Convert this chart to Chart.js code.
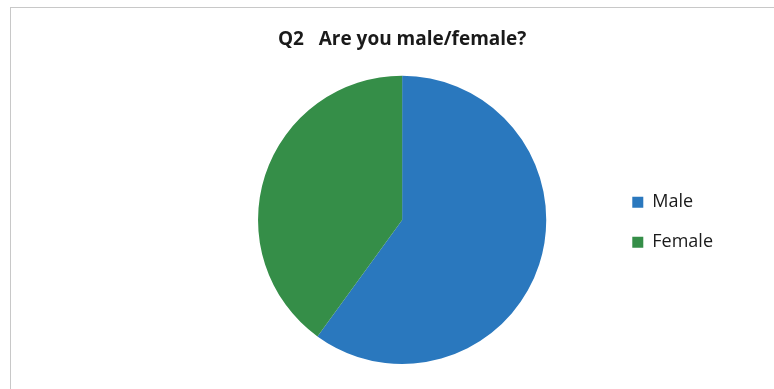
<!DOCTYPE html>
<html>
<head>
<meta charset="utf-8">
<script src="https://cdn.jsdelivr.net/npm/chart.js@4"></script>
<style>
	html, body { margin: 0; padding: 0; background: #fff; overflow: hidden; }
	#frame { position: absolute; left: 10px; top: 7px; width: 800px; height: 420px; border: 1px solid #c8c8c8; box-sizing: border-box; }
	#wrap { position: absolute; left: 0; top: 0; width: 774px; height: 389px; }
</style>
</head>
<body>
<div id="frame"></div>
<div id="wrap"><canvas id="myChart" width="774" height="389"></canvas></div>
<script>
const categories = ['Male', 'Female'];
const values = [60, 40];
const colours = ['#2a78be', '#358e48'];
const titleText = 'Q2   Are you male/female?';

function initialize() {
	const ctx = document.getElementById('myChart');
	new Chart(ctx, {
		type: 'pie',
		data: {
			labels: categories,
			datasets: [{
				data: values,
				backgroundColor: colours,
				borderWidth: 0
			}]
		},
		options: {
			responsive: false,
			animation: false,
			layout: {
				padding: { left: 194, right: 51, top: 0, bottom: 25 }
			},
			plugins: {
				title: {
					display: true,
					fullSize: false,
					text: titleText,
					color: '#1a1a1a',
					font: { family: 'Open Sans', size: 19, weight: 'bold' },
					padding: { top: 28, bottom: 25 }
				},
				legend: {
					position: 'right',
					title: {
						display: true,
						text: ' ',
						font: { size: 12 },
						padding: { top: 66, bottom: 0 }
					},
					labels: {
						boxWidth: 11,
						boxHeight: 11,
						padding: 22,
						color: '#1a1a1a',
						font: { family: 'Open Sans', size: 18 }
					}
				},
				tooltip: { enabled: false }
			}
		}
	});
} //initialize

initialize();
</script>
</body>
</html>
